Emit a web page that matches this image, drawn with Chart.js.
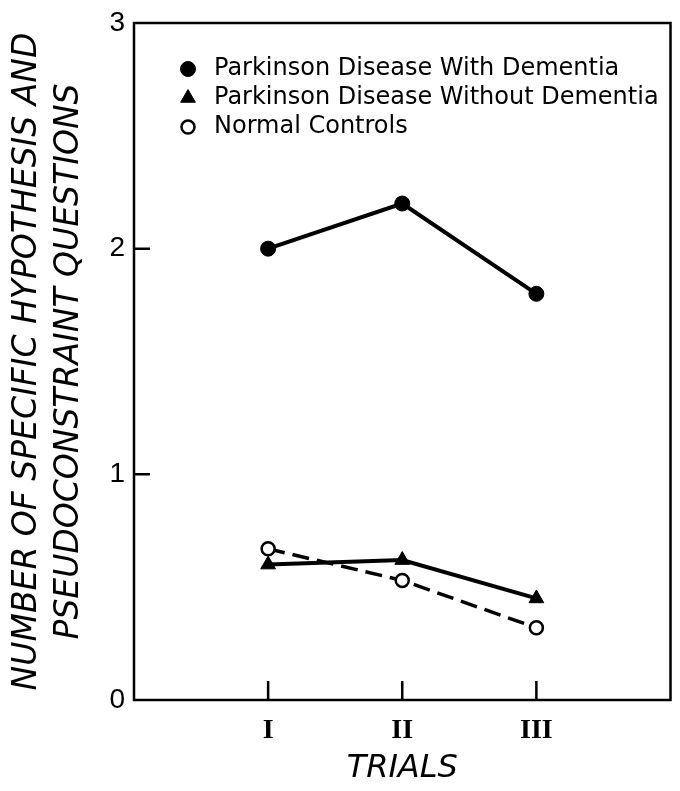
<!DOCTYPE html>
<html>
<head>
<meta charset="utf-8">
<script src="https://cdn.jsdelivr.net/npm/chart.js@4.4.1/dist/chart.umd.min.js"></script>
<style>
  html, body { margin: 0; padding: 0; background: #fff; }
  #wrap { width: 680px; height: 791px; }
</style>
</head>
<body>
<div id="wrap"><canvas id="trialsChart"></canvas></div>
<script>
var trialLabels = ["I", "II", "III"];
var trialPositions = [1, 2, 3];
var withDementia = [2.0, 2.2, 1.8];
var withoutDementia = [0.6, 0.62, 0.45];
var normalControls = [0.67, 0.53, 0.32];
var yTicks = [0, 1, 2, 3];

function toPoints(values) {
  return values.map(function (v, i) {
    return { x: trialPositions[i], y: v };
  });
}

// box round the plot, short ticks pointing inward
var frameTicks = {
  id: "frameTicks",
  beforeDatasetsDraw: function (chart) {
    var ctx = chart.ctx;
    var a = chart.chartArea;
    var xs = chart.scales.x;
    var ys = chart.scales.y;
    ctx.save();
    ctx.strokeStyle = "#000";
    ctx.lineWidth = 2.5;
    ctx.strokeRect(a.left, a.top, a.right - a.left, a.bottom - a.top);
    ctx.beginPath();
    trialPositions.forEach(function (p) {
      var px = xs.getPixelForValue(p);
      ctx.moveTo(px, a.bottom);
      ctx.lineTo(px, a.bottom - 19);
    });
    yTicks.slice(1, -1).forEach(function (v) {
      var py = ys.getPixelForValue(v);
      ctx.moveTo(a.left, py);
      ctx.lineTo(a.left + 16, py);
    });
    ctx.stroke();
    ctx.restore();
  }
};

// legend drawn inside the plot, top left
var legendInPlot = {
  id: "legendInPlot",
  afterDatasetsDraw: function (chart) {
    var ctx = chart.ctx;
    var a = chart.chartArea;
    ctx.save();
    ctx.font = "24px 'DejaVu Sans'";
    ctx.textBaseline = "middle";
    chart.data.datasets.forEach(function (ds, i) {
      var y = a.top + 46 + i * 29;
      var x = a.left + 54;
      ctx.fillStyle = ds.pointBackgroundColor;
      ctx.strokeStyle = "#000";
      ctx.lineWidth = ds.pointBorderWidth;
      Chart.helpers.drawPoint(ctx, {
        pointStyle: ds.pointStyle,
        radius: ds.pointRadius,
        borderWidth: ds.pointBorderWidth,
        rotation: 0
      }, x, y);
      ctx.fillStyle = "#000";
      ctx.fillText(ds.label, a.left + 80, y);
    });
    ctx.restore();
  }
};

var ctx = document.getElementById("trialsChart").getContext("2d");
var chart = new Chart(ctx, {
  type: "line",
  data: {
    datasets: [
      {
        label: "Parkinson Disease With Dementia",
        data: toPoints(withDementia),
        borderColor: "#000",
        borderWidth: 4,
        pointStyle: "circle",
        pointRadius: 7.5,
        pointBackgroundColor: "#000",
        pointBorderColor: "#000",
        pointBorderWidth: 1,
        tension: 0
      },
      {
        label: "Parkinson Disease Without Dementia",
        data: toPoints(withoutDementia),
        borderColor: "#000",
        borderWidth: 4,
        pointStyle: "triangle",
        pointRadius: 8.5,
        pointBackgroundColor: "#000",
        pointBorderColor: "#000",
        pointBorderWidth: 1,
        tension: 0
      },
      {
        label: "Normal Controls",
        data: toPoints(normalControls),
        borderColor: "#000",
        borderWidth: 3.5,
        borderDash: [17, 8],
        pointStyle: "circle",
        pointRadius: 6.5,
        pointBackgroundColor: "#fff",
        pointBorderColor: "#000",
        pointBorderWidth: 2.5,
        tension: 0
      }
    ]
  },
  options: {
    responsive: true,
    maintainAspectRatio: false,
    animation: false,
    layout: { padding: { left: 0, top: 16, right: 9, bottom: 0 } },
    plugins: {
      legend: { display: false },
      tooltip: { enabled: false }
    },
    scales: {
      x: {
        type: "linear",
        min: 0,
        max: 4,
        grid: { display: false, drawTicks: false },
        border: { display: false },
        afterBuildTicks: function (scale) {
          scale.ticks = trialPositions.map(function (v) { return { value: v }; });
        },
        afterFit: function (scale) {
          scale.height = 91;
        },
        ticks: {
          color: "#000",
          padding: 14,
          font: { family: "'Liberation Serif'", size: 28, weight: "bold" },
          callback: function (value) {
            var i = trialPositions.indexOf(value);
            return i < 0 ? "" : trialLabels[i];
          }
        },
        title: {
          display: true,
          text: "TRIALS",
          color: "#000",
          padding: { top: 0, bottom: 6 },
          font: { family: "'DejaVu Sans'", style: "italic", size: 32, lineHeight: 1 }
        }
      },
      y: {
        min: 0,
        max: 3,
        grid: { display: false, drawTicks: false },
        border: { display: false },
        afterBuildTicks: function (scale) {
          scale.ticks = yTicks.map(function (v) { return { value: v }; });
        },
        afterFit: function (scale) {
          scale.width = 134;
        },
        ticks: {
          color: "#000",
          padding: 9,
          font: { family: "'Liberation Sans'", size: 28, lineHeight: 1 }
        },
        title: {
          display: true,
          text: ["NUMBER OF SPECIFIC HYPOTHESIS AND", "PSEUDOCONSTRAINT QUESTIONS"],
          color: "#000",
          padding: { top: 6, bottom: 0 },
          font: { family: "'DejaVu Sans'", style: "italic", size: 33, lineHeight: 1.28 }
        }
      }
    }
  },
  plugins: [frameTicks, legendInPlot]
});
</script>
</body>
</html>
